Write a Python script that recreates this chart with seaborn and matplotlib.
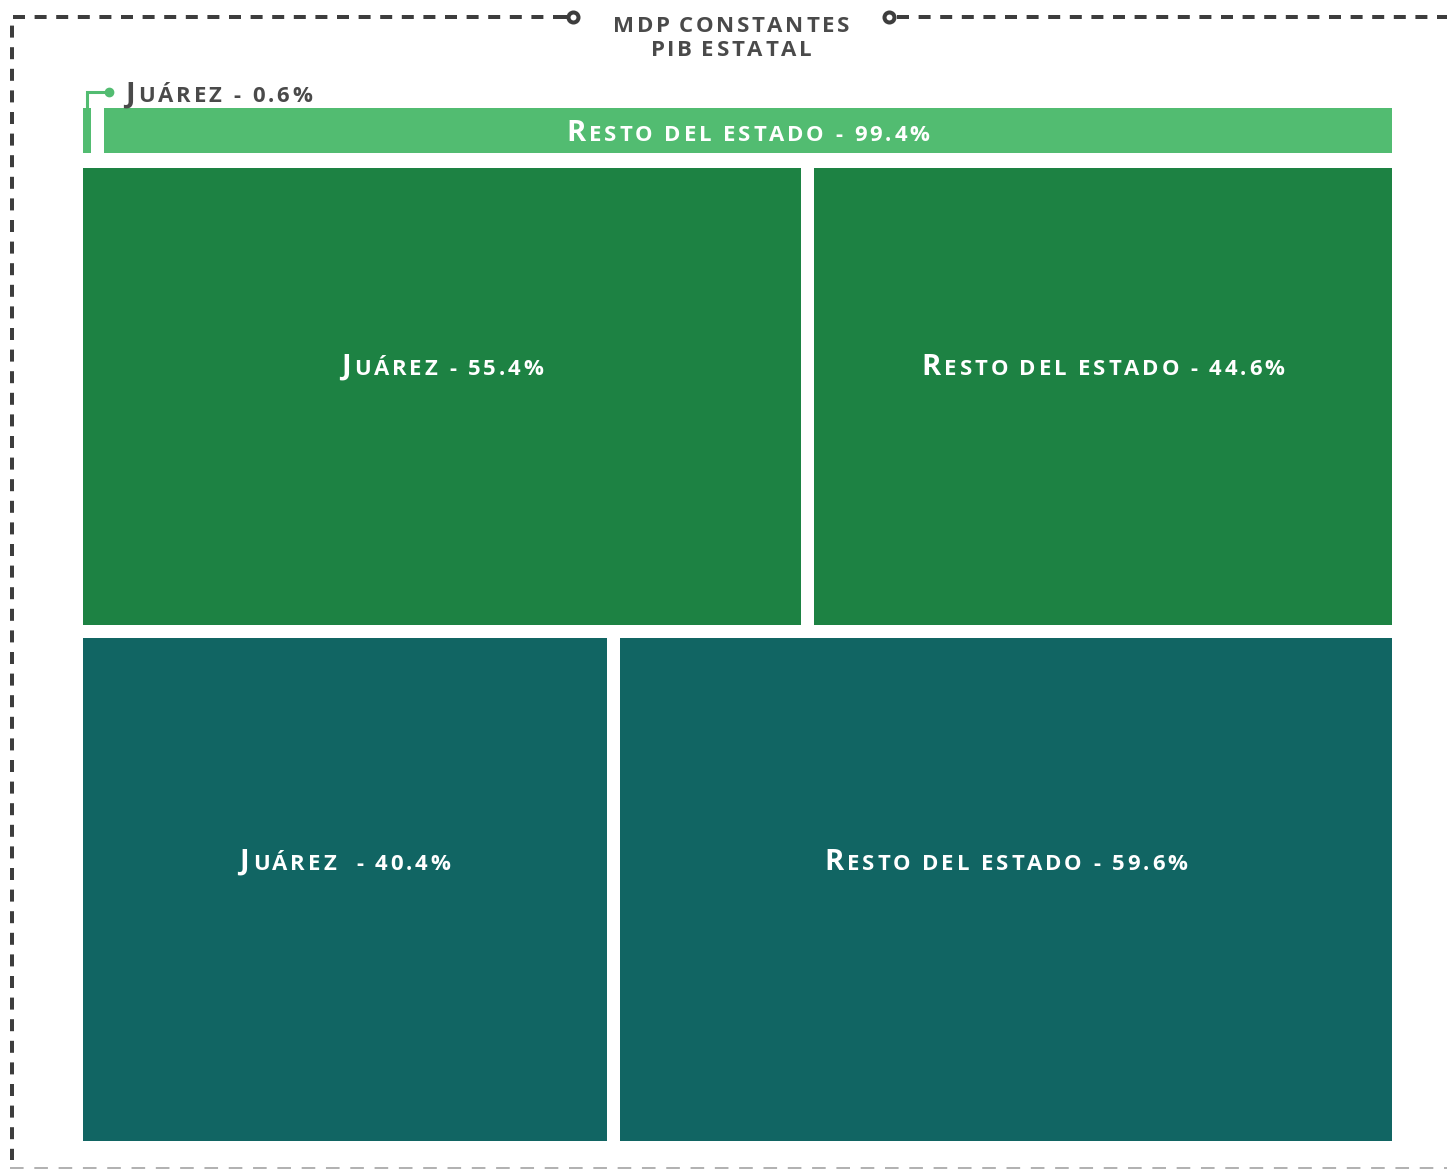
import matplotlib
matplotlib.use("Agg")
import matplotlib.pyplot as plt
import seaborn as sns
from matplotlib.font_manager import FontProperties, findfont
from matplotlib.ft2font import FT2Font

# --- data -------------------------------------------------------------
juarez_pct = [0.6, 55.4, 40.4]
resto_pct = [99.4, 44.6, 59.6]
juarez_labels = ["Juárez - 0.6%", "Juárez - 55.4%", "Juárez  - 40.4%"]
resto_labels = ["Resto del estado - 99.4%", "Resto del estado - 44.6%",
                "Resto del estado - 59.6%"]
title_lines = ["MDP CONSTANTES", "PIB ESTATAL"]

# --- style / layout ---------------------------------------------------
row_colors = ["#52BC71", "#1D8243", "#116563"]
row_tops = [0, 60, 530]          # px inside the plot area
row_heights = [45, 457, 503]
label_frac = [0.5, 0.43, 0.44]   # vertical label position inside each row
gap = 1.0                        # gap between the two blocks, in % units
W, H = 1447, 1171
dark = "#3d3d3d"
text_gray = "#4a4a4a"
FONT = "Open Sans"

sns.set_theme(style="white")
plt.rcParams["font.family"] = [FONT, "DejaVu Sans"]

ft = FT2Font(findfont(FontProperties(family=FONT, weight="bold")))


def advance(ch, size):
    ft.set_size(size, 100)
    g = ft.load_char(ord(ch))
    return g.linearHoriAdvance / 65536


fig = plt.figure(figsize=(W / 100, H / 100), dpi=100)
fig.patch.set_facecolor("white")

# plot area (pixel box 83..1392 x 108..1141)
ax = fig.add_axes([83 / W, 1 - 1141 / H, (1392 - 83) / W, (1141 - 108) / H], zorder=1)
ax.set_xlim(0, 100 + gap)
ax.set_ylim(1033, 0)
ax.axis("off")

for i in range(len(juarez_pct)):
    ax.barh(row_tops[i], juarez_pct[i], height=row_heights[i], left=0,
            align="edge", color=row_colors[i], linewidth=0)
    ax.barh(row_tops[i], resto_pct[i], height=row_heights[i],
            left=juarez_pct[i] + gap, align="edge", color=row_colors[i], linewidth=0)

# overlay in figure pixels for border, title and labels
ov = fig.add_axes([0, 0, 1, 1], zorder=2)
ov.set_xlim(0, W)
ov.set_ylim(H, 0)
ov.axis("off")

lw_px = 4
ov.plot([565, 12, 12], [17, 17, 1160], color=dark, lw=lw_px * 0.72,
        dashes=(3, 2.4), solid_capstyle="butt", dash_capstyle="butt")
ov.plot([897, W], [17, 17], color=dark, lw=lw_px * 0.72,
        dashes=(3, 2.4), dash_capstyle="butt")
ov.plot([558, 573], [17, 17], color=dark, lw=lw_px * 0.72, solid_capstyle="butt")
ov.plot([573, 889], [17, 17], ls="none", marker="o", ms=7.2, mfc="white",
        mec=dark, mew=2.9)
ov.plot([10, W], [1168, 1168], color="#b0b0b0", lw=1.4, dashes=(7, 5.5),
        dash_capstyle="butt")


def to_px(x, y):
    disp = ax.transData.transform((x, y))
    return ov.transData.inverted().transform(disp)


def spaced_text(x, y, label, size, color, ha="center", small=0.76, track=0.13):
    # small caps with letter spacing, y is the vertical centre of the capitals
    chars = []
    for ch in label:
        s = size if ch.isupper() else size * small
        chars.append((ch.upper(), s))
    advs = [advance(c, s) + track * s * 100 / 72 for c, s in chars]
    total = sum(advs) - track * chars[-1][1] * 100 / 72
    base = y + 0.714 * size * 100 / 72 / 2
    x0 = x - total / 2 if ha == "center" else x
    for (c, s), a in zip(chars, advs):
        if c != " ":
            ov.text(x0, base, c, fontsize=s, fontweight="bold", color=color,
                    ha="left", va="baseline")
        x0 += a


for k, line in enumerate(title_lines):
    spaced_text(731, 24 + 24 * k, line, 16, text_gray, track=0.12)

for i in range(len(juarez_pct)):
    yc = row_tops[i] + row_heights[i] * label_frac[i]
    if juarez_pct[i] < 5:
        bx, by = to_px(juarez_pct[i] / 2, row_tops[i])
        ov.plot([bx, bx, bx + 22], [by, by - 16, by - 16], color=row_colors[i],
                lw=2.2, solid_joinstyle="miter")
        ov.plot(bx + 22, by - 16, marker="o", ms=6, color=row_colors[i])
        spaced_text(bx + 38, by - 16, juarez_labels[i], 21, text_gray, ha="left")
    else:
        cx, cy = to_px(juarez_pct[i] / 2, yc)
        spaced_text(cx, cy, juarez_labels[i], 21, "white")
    cx, cy = to_px(juarez_pct[i] + gap + resto_pct[i] / 2, yc)
    spaced_text(cx, cy, resto_labels[i], 21, "white")

fig.savefig("out.png", dpi=100)
